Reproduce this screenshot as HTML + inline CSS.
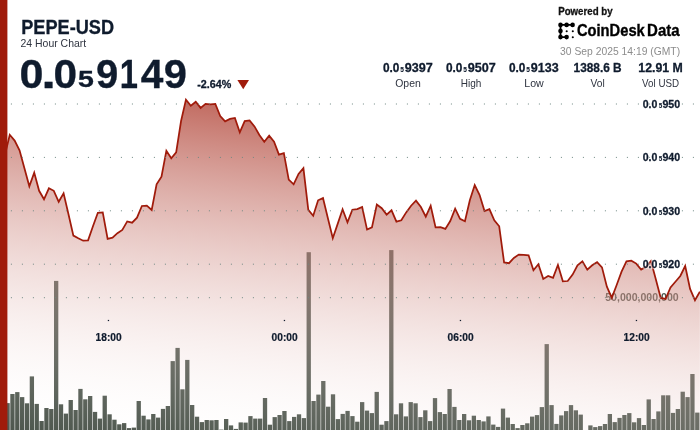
<!DOCTYPE html>
<html lang="en">
<head>
<meta charset="utf-8">
<title>PEPE-USD 24 Hour Chart</title>
<style>
html,body{margin:0;padding:0;background:#fff;}
body{width:700px;height:430px;overflow:hidden;}
svg{display:block;font-family:"Liberation Sans",sans-serif;}
text{fill:#0f1b2d;}
.ax{font-weight:700;}
.halo{filter:url(#halo);}
.b{stroke:#0f1b2d;stroke-width:.3px;}
.sv{font-weight:700;font-size:12.8px;}
.sl{font-size:11.5px;fill:#2f3440;}
.grid line{stroke:#6e8782;stroke-width:1;stroke-dasharray:1 10;}
</style>
</head>
<body>
<svg width="700" height="430" viewBox="0 0 700 430">
<defs>
<linearGradient id="af" gradientUnits="userSpaceOnUse" x1="216.5" y1="17.8" x2="167.15" y2="450.7"><stop offset="0" stop-color="#a01b0b" stop-opacity="1"/><stop offset="1" stop-color="#ffffff" stop-opacity="0"/></linearGradient>

<filter id="halo" x="-10%" y="-30%" width="120%" height="160%" color-interpolation-filters="sRGB">
<feMorphology in="SourceAlpha" operator="dilate" radius="1" result="d"/>
<feGaussianBlur in="d" stdDeviation="0.4" result="db"/>
<feFlood flood-color="#fff" flood-opacity="0.5"/>
<feComposite in2="db" operator="in" result="h"/>
<feMerge><feMergeNode in="h"/><feMergeNode in="SourceGraphic"/></feMerge>
</filter>
</defs>
<rect width="700" height="430" fill="#fff"/>
<g fill="#4d564d">
<rect x="5.44" y="403.10" width="4.3" height="26.90"/>
<rect x="10.30" y="394.00" width="4.3" height="36.00"/>
<rect x="15.16" y="392.10" width="4.3" height="37.90"/>
<rect x="20.01" y="397.10" width="4.3" height="32.90"/>
<rect x="24.87" y="403.30" width="4.3" height="26.70"/>
<rect x="29.73" y="376.40" width="4.3" height="53.60"/>
<rect x="34.59" y="403.90" width="4.3" height="26.10"/>
<rect x="39.44" y="421.00" width="4.3" height="9.00"/>
<rect x="44.30" y="408.00" width="4.3" height="22.00"/>
<rect x="49.16" y="409.00" width="4.3" height="21.00"/>
<rect x="54.01" y="280.90" width="4.3" height="149.10"/>
<rect x="58.87" y="404.30" width="4.3" height="25.70"/>
<rect x="63.73" y="413.60" width="4.3" height="16.40"/>
<rect x="68.58" y="400.00" width="4.3" height="30.00"/>
<rect x="73.44" y="410.00" width="4.3" height="20.00"/>
<rect x="78.30" y="388.90" width="4.3" height="41.10"/>
<rect x="83.16" y="399.30" width="4.3" height="30.70"/>
<rect x="88.01" y="396.00" width="4.3" height="34.00"/>
<rect x="92.87" y="411.90" width="4.3" height="18.10"/>
<rect x="97.73" y="418.60" width="4.3" height="11.40"/>
<rect x="102.58" y="395.70" width="4.3" height="34.30"/>
<rect x="107.44" y="414.30" width="4.3" height="15.70"/>
<rect x="112.30" y="419.70" width="4.3" height="10.30"/>
<rect x="117.15" y="424.30" width="4.3" height="5.70"/>
<rect x="122.01" y="423.10" width="4.3" height="6.90"/>
<rect x="126.87" y="428.10" width="4.3" height="1.90"/>
<rect x="131.73" y="427.60" width="4.3" height="2.40"/>
<rect x="136.58" y="401.00" width="4.3" height="29.00"/>
<rect x="141.44" y="415.70" width="4.3" height="14.30"/>
<rect x="146.30" y="419.40" width="4.3" height="10.60"/>
<rect x="151.15" y="414.00" width="4.3" height="16.00"/>
<rect x="156.01" y="417.60" width="4.3" height="12.40"/>
<rect x="160.87" y="408.90" width="4.3" height="21.10"/>
<rect x="165.72" y="406.00" width="4.3" height="24.00"/>
<rect x="170.58" y="361.10" width="4.3" height="68.90"/>
<rect x="175.44" y="347.90" width="4.3" height="82.10"/>
<rect x="180.30" y="389.30" width="4.3" height="40.70"/>
<rect x="185.15" y="359.90" width="4.3" height="70.10"/>
<rect x="190.01" y="405.00" width="4.3" height="25.00"/>
<rect x="194.87" y="416.70" width="4.3" height="13.30"/>
<rect x="199.72" y="422.10" width="4.3" height="7.90"/>
<rect x="204.58" y="420.00" width="4.3" height="10.00"/>
<rect x="209.44" y="420.30" width="4.3" height="9.70"/>
<rect x="214.29" y="420.00" width="4.3" height="10.00"/>
<rect x="219.15" y="429.60" width="4.3" height="0.40"/>
<rect x="224.01" y="419.00" width="4.3" height="11.00"/>
<rect x="228.87" y="425.40" width="4.3" height="4.60"/>
<rect x="233.72" y="428.90" width="4.3" height="1.10"/>
<rect x="238.58" y="422.40" width="4.3" height="7.60"/>
<rect x="243.44" y="422.60" width="4.3" height="7.40"/>
<rect x="248.29" y="416.10" width="4.3" height="13.90"/>
<rect x="253.15" y="418.60" width="4.3" height="11.40"/>
<rect x="258.01" y="418.60" width="4.3" height="11.40"/>
<rect x="262.86" y="398.00" width="4.3" height="32.00"/>
<rect x="267.72" y="424.70" width="4.3" height="5.30"/>
<rect x="272.58" y="417.10" width="4.3" height="12.90"/>
<rect x="277.44" y="415.00" width="4.3" height="15.00"/>
<rect x="282.29" y="411.00" width="4.3" height="19.00"/>
<rect x="287.15" y="421.10" width="4.3" height="8.90"/>
<rect x="292.01" y="416.90" width="4.3" height="13.10"/>
<rect x="296.86" y="414.30" width="4.3" height="15.70"/>
<rect x="301.72" y="418.10" width="4.3" height="11.90"/>
<rect x="306.58" y="252.20" width="4.3" height="177.80"/>
<rect x="311.43" y="401.00" width="4.3" height="29.00"/>
<rect x="316.29" y="394.60" width="4.3" height="35.40"/>
<rect x="321.15" y="381.00" width="4.3" height="49.00"/>
<rect x="326.01" y="406.70" width="4.3" height="23.30"/>
<rect x="330.86" y="394.30" width="4.3" height="35.70"/>
<rect x="335.72" y="419.10" width="4.3" height="10.90"/>
<rect x="340.58" y="413.90" width="4.3" height="16.10"/>
<rect x="345.43" y="410.90" width="4.3" height="19.10"/>
<rect x="350.29" y="416.10" width="4.3" height="13.90"/>
<rect x="355.15" y="421.70" width="4.3" height="8.30"/>
<rect x="360.00" y="402.10" width="4.3" height="27.90"/>
<rect x="364.86" y="410.60" width="4.3" height="19.40"/>
<rect x="369.72" y="413.10" width="4.3" height="16.90"/>
<rect x="374.58" y="391.90" width="4.3" height="38.10"/>
<rect x="379.43" y="424.70" width="4.3" height="5.30"/>
<rect x="384.29" y="421.10" width="4.3" height="8.90"/>
<rect x="389.15" y="250.10" width="4.3" height="179.90"/>
<rect x="394.00" y="414.30" width="4.3" height="15.70"/>
<rect x="398.86" y="403.30" width="4.3" height="26.70"/>
<rect x="403.72" y="416.40" width="4.3" height="13.60"/>
<rect x="408.57" y="402.10" width="4.3" height="27.90"/>
<rect x="413.43" y="403.30" width="4.3" height="26.70"/>
<rect x="418.29" y="417.10" width="4.3" height="12.90"/>
<rect x="423.15" y="410.30" width="4.3" height="19.70"/>
<rect x="428.00" y="421.10" width="4.3" height="8.90"/>
<rect x="432.86" y="398.10" width="4.3" height="31.90"/>
<rect x="437.72" y="412.10" width="4.3" height="17.90"/>
<rect x="442.57" y="414.00" width="4.3" height="16.00"/>
<rect x="447.43" y="389.00" width="4.3" height="41.00"/>
<rect x="452.29" y="406.90" width="4.3" height="23.10"/>
<rect x="457.14" y="420.00" width="4.3" height="10.00"/>
<rect x="462.00" y="414.00" width="4.3" height="16.00"/>
<rect x="466.86" y="420.30" width="4.3" height="9.70"/>
<rect x="471.72" y="415.70" width="4.3" height="14.30"/>
<rect x="476.57" y="420.00" width="4.3" height="10.00"/>
<rect x="481.43" y="421.40" width="4.3" height="8.60"/>
<rect x="486.29" y="416.40" width="4.3" height="13.60"/>
<rect x="491.14" y="424.60" width="4.3" height="5.40"/>
<rect x="496.00" y="426.90" width="4.3" height="3.10"/>
<rect x="500.86" y="408.60" width="4.3" height="21.40"/>
<rect x="505.71" y="417.60" width="4.3" height="12.40"/>
<rect x="510.57" y="424.00" width="4.3" height="6.00"/>
<rect x="515.43" y="428.10" width="4.3" height="1.90"/>
<rect x="520.28" y="425.00" width="4.3" height="5.00"/>
<rect x="525.14" y="423.30" width="4.3" height="6.70"/>
<rect x="530.00" y="416.60" width="4.3" height="13.40"/>
<rect x="534.86" y="415.10" width="4.3" height="14.90"/>
<rect x="539.71" y="407.10" width="4.3" height="22.90"/>
<rect x="544.57" y="344.10" width="4.3" height="85.90"/>
<rect x="549.43" y="405.10" width="4.3" height="24.90"/>
<rect x="554.28" y="423.90" width="4.3" height="6.10"/>
<rect x="559.14" y="415.40" width="4.3" height="14.60"/>
<rect x="564.00" y="411.10" width="4.3" height="18.90"/>
<rect x="568.86" y="405.10" width="4.3" height="24.90"/>
<rect x="573.71" y="410.30" width="4.3" height="19.70"/>
<rect x="578.57" y="414.60" width="4.3" height="15.40"/>
<rect x="588.28" y="425.40" width="4.3" height="4.60"/>
<rect x="593.14" y="427.10" width="4.3" height="2.90"/>
<rect x="598.00" y="426.10" width="4.3" height="3.90"/>
<rect x="602.85" y="424.00" width="4.3" height="6.00"/>
<rect x="607.71" y="414.00" width="4.3" height="16.00"/>
<rect x="612.57" y="422.10" width="4.3" height="7.90"/>
<rect x="617.42" y="417.90" width="4.3" height="12.10"/>
<rect x="622.28" y="415.00" width="4.3" height="15.00"/>
<rect x="627.14" y="413.10" width="4.3" height="16.90"/>
<rect x="632.00" y="422.30" width="4.3" height="7.70"/>
<rect x="636.85" y="418.10" width="4.3" height="11.90"/>
<rect x="641.71" y="425.00" width="4.3" height="5.00"/>
<rect x="646.57" y="399.40" width="4.3" height="30.60"/>
<rect x="651.42" y="419.00" width="4.3" height="11.00"/>
<rect x="656.28" y="411.40" width="4.3" height="18.60"/>
<rect x="661.14" y="395.30" width="4.3" height="34.70"/>
<rect x="666.00" y="395.30" width="4.3" height="34.70"/>
<rect x="670.85" y="412.90" width="4.3" height="17.10"/>
<rect x="675.71" y="409.00" width="4.3" height="21.00"/>
<rect x="680.57" y="391.70" width="4.3" height="38.30"/>
<rect x="685.42" y="397.10" width="4.3" height="32.90"/>
<rect x="690.28" y="374.00" width="4.3" height="56.00"/>
<rect x="695.14" y="412.60" width="4.3" height="17.40"/>
</g>
<text x="678.7" y="301.3" text-anchor="end" textLength="73.5" lengthAdjust="spacingAndGlyphs" font-weight="700" font-size="11" class="halo" style="fill:#4d564d">50,000,000,000</text>
<path d="M4.86,155.30 L9.75,134.80 L14.64,140.60 L19.54,150.30 L24.43,168.30 L29.33,186.30 L34.22,172.60 L39.12,190.80 L44.01,199.30 L48.91,188.30 L53.80,190.80 L58.70,201.80 L63.59,193.30 L68.48,214.30 L73.38,235.60 L78.27,238.30 L83.17,240.70 L88.06,240.30 L92.96,226.30 L97.85,212.80 L102.75,212.40 L107.64,238.90 L112.53,237.70 L117.43,233.20 L122.32,230.00 L127.22,221.40 L132.11,222.70 L137.01,217.70 L141.90,206.00 L146.80,205.60 L151.69,210.00 L156.59,184.30 L161.48,176.70 L166.37,150.70 L171.27,158.20 L176.16,152.40 L181.06,121.00 L185.95,99.60 L190.85,105.70 L195.74,101.70 L200.64,107.90 L205.53,103.90 L210.42,104.30 L215.32,104.00 L220.21,116.00 L225.11,121.40 L230.00,118.90 L234.90,117.90 L239.79,132.40 L244.69,121.10 L249.58,120.50 L254.47,126.40 L259.37,135.00 L264.26,141.70 L269.16,135.70 L274.05,141.70 L278.95,154.60 L283.84,153.20 L288.74,179.60 L293.63,184.30 L298.53,173.90 L303.42,168.20 L308.31,209.80 L313.21,215.70 L318.10,200.30 L323.00,198.10 L327.89,218.20 L332.79,238.20 L337.68,223.90 L342.58,209.30 L347.47,222.40 L352.37,209.70 L357.26,209.10 L362.15,207.00 L367.05,229.60 L371.94,227.40 L376.84,204.60 L381.73,208.20 L386.63,214.60 L391.52,210.30 L396.42,221.70 L401.31,220.30 L406.20,212.40 L411.10,205.70 L415.99,200.70 L420.89,207.00 L425.78,216.70 L430.68,205.70 L435.57,227.40 L440.47,227.20 L445.36,228.90 L450.25,221.00 L455.15,208.60 L460.04,218.90 L464.94,221.30 L469.83,200.30 L474.73,185.00 L479.62,195.10 L484.52,211.00 L489.41,209.20 L494.31,220.30 L499.20,226.30 L504.09,262.40 L508.99,263.20 L513.88,257.90 L518.78,254.60 L523.67,254.90 L528.57,255.30 L533.46,270.30 L538.36,264.30 L543.25,278.90 L548.14,276.00 L553.04,277.90 L557.93,264.90 L562.83,281.30 L567.72,281.00 L572.62,274.60 L577.51,265.30 L582.41,261.30 L587.30,269.60 L592.20,265.30 L597.09,262.20 L601.98,267.40 L606.88,286.70 L611.77,297.90 L616.67,285.00 L621.56,271.70 L626.46,261.40 L631.35,260.70 L636.25,263.60 L641.14,269.60 L646.03,266.70 L650.93,261.00 L655.82,279.30 L660.72,297.90 L665.61,298.90 L670.51,287.40 L675.40,281.70 L680.30,276.00 L685.19,266.00 L690.09,288.90 L694.98,300.30 L699.87,291.70 L699.87,430 L4.86,430 Z" fill="url(#af)"/>
<path d="M4.86,155.30 L9.75,134.80 L14.64,140.60 L19.54,150.30 L24.43,168.30 L29.33,186.30 L34.22,172.60 L39.12,190.80 L44.01,199.30 L48.91,188.30 L53.80,190.80 L58.70,201.80 L63.59,193.30 L68.48,214.30 L73.38,235.60 L78.27,238.30 L83.17,240.70 L88.06,240.30 L92.96,226.30 L97.85,212.80 L102.75,212.40 L107.64,238.90 L112.53,237.70 L117.43,233.20 L122.32,230.00 L127.22,221.40 L132.11,222.70 L137.01,217.70 L141.90,206.00 L146.80,205.60 L151.69,210.00 L156.59,184.30 L161.48,176.70 L166.37,150.70 L171.27,158.20 L176.16,152.40 L181.06,121.00 L185.95,99.60 L190.85,105.70 L195.74,101.70 L200.64,107.90 L205.53,103.90 L210.42,104.30 L215.32,104.00 L220.21,116.00 L225.11,121.40 L230.00,118.90 L234.90,117.90 L239.79,132.40 L244.69,121.10 L249.58,120.50 L254.47,126.40 L259.37,135.00 L264.26,141.70 L269.16,135.70 L274.05,141.70 L278.95,154.60 L283.84,153.20 L288.74,179.60 L293.63,184.30 L298.53,173.90 L303.42,168.20 L308.31,209.80 L313.21,215.70 L318.10,200.30 L323.00,198.10 L327.89,218.20 L332.79,238.20 L337.68,223.90 L342.58,209.30 L347.47,222.40 L352.37,209.70 L357.26,209.10 L362.15,207.00 L367.05,229.60 L371.94,227.40 L376.84,204.60 L381.73,208.20 L386.63,214.60 L391.52,210.30 L396.42,221.70 L401.31,220.30 L406.20,212.40 L411.10,205.70 L415.99,200.70 L420.89,207.00 L425.78,216.70 L430.68,205.70 L435.57,227.40 L440.47,227.20 L445.36,228.90 L450.25,221.00 L455.15,208.60 L460.04,218.90 L464.94,221.30 L469.83,200.30 L474.73,185.00 L479.62,195.10 L484.52,211.00 L489.41,209.20 L494.31,220.30 L499.20,226.30 L504.09,262.40 L508.99,263.20 L513.88,257.90 L518.78,254.60 L523.67,254.90 L528.57,255.30 L533.46,270.30 L538.36,264.30 L543.25,278.90 L548.14,276.00 L553.04,277.90 L557.93,264.90 L562.83,281.30 L567.72,281.00 L572.62,274.60 L577.51,265.30 L582.41,261.30 L587.30,269.60 L592.20,265.30 L597.09,262.20 L601.98,267.40 L606.88,286.70 L611.77,297.90 L616.67,285.00 L621.56,271.70 L626.46,261.40 L631.35,260.70 L636.25,263.60 L641.14,269.60 L646.03,266.70 L650.93,261.00 L655.82,279.30 L660.72,297.90 L665.61,298.90 L670.51,287.40 L675.40,281.70 L680.30,276.00 L685.19,266.00 L690.09,288.90 L694.98,300.30 L699.87,291.70" fill="none" stroke="#a01b0b" stroke-width="1.75" stroke-linejoin="miter" stroke-miterlimit="10"/>
<g class="grid"><line x1="10.9" x2="700" y1="104" y2="104"/><line x1="10.9" x2="700" y1="157.4" y2="157.4"/><line x1="10.9" x2="700" y1="210.8" y2="210.8"/><line x1="10.9" x2="700" y1="264.2" y2="264.2"/><line x1="10.9" x2="700" y1="297.7" y2="297.7"/></g>
<text class="ax b halo" font-size="11" y="107.7"><tspan x="642.68" textLength="14.65" lengthAdjust="spacingAndGlyphs">0.0</tspan><tspan x="658.42" dy="0.26" font-size="14.87" stroke-width=".15" textLength="4.07" lengthAdjust="spacingAndGlyphs">₅</tspan><tspan x="662.43" dy="-0.26" textLength="17.70" lengthAdjust="spacingAndGlyphs">950</tspan></text><text class="ax b halo" font-size="11" y="161.1"><tspan x="642.68" textLength="14.65" lengthAdjust="spacingAndGlyphs">0.0</tspan><tspan x="658.42" dy="0.26" font-size="14.87" stroke-width=".15" textLength="4.07" lengthAdjust="spacingAndGlyphs">₅</tspan><tspan x="662.43" dy="-0.26" textLength="17.70" lengthAdjust="spacingAndGlyphs">940</tspan></text><text class="ax b halo" font-size="11" y="214.5"><tspan x="642.68" textLength="14.65" lengthAdjust="spacingAndGlyphs">0.0</tspan><tspan x="658.42" dy="0.26" font-size="14.87" stroke-width=".15" textLength="4.07" lengthAdjust="spacingAndGlyphs">₅</tspan><tspan x="662.43" dy="-0.26" textLength="17.70" lengthAdjust="spacingAndGlyphs">930</tspan></text><text class="ax b halo" font-size="11" y="267.9"><tspan x="642.68" textLength="14.65" lengthAdjust="spacingAndGlyphs">0.0</tspan><tspan x="658.42" dy="0.26" font-size="14.87" stroke-width=".15" textLength="4.07" lengthAdjust="spacingAndGlyphs">₅</tspan><tspan x="662.43" dy="-0.26" textLength="17.70" lengthAdjust="spacingAndGlyphs">920</tspan></text>
<rect x="107.8" y="319.9" width="1.3" height="1.2" fill="#0f1b2d"/><text class="ax" font-size="10.4" style="stroke:#0f1b2d;stroke-width:.2px" x="108.6" y="340.7" text-anchor="middle" textLength="26" lengthAdjust="spacingAndGlyphs">18:00</text><rect x="283.8" y="319.9" width="1.3" height="1.2" fill="#0f1b2d"/><text class="ax" font-size="10.4" style="stroke:#0f1b2d;stroke-width:.2px" x="284.6" y="340.7" text-anchor="middle" textLength="26" lengthAdjust="spacingAndGlyphs">00:00</text><rect x="459.8" y="319.9" width="1.3" height="1.2" fill="#0f1b2d"/><text class="ax" font-size="10.4" style="stroke:#0f1b2d;stroke-width:.2px" x="460.6" y="340.7" text-anchor="middle" textLength="26" lengthAdjust="spacingAndGlyphs">06:00</text><rect x="635.8" y="319.9" width="1.3" height="1.2" fill="#0f1b2d"/><text class="ax" font-size="10.4" style="stroke:#0f1b2d;stroke-width:.2px" x="636.6" y="340.7" text-anchor="middle" textLength="26" lengthAdjust="spacingAndGlyphs">12:00</text>
<rect x="0" y="0" width="7.4" height="430" fill="#a01b0b"/>
<text class="b" x="21.2" y="33.6" font-weight="700" font-size="19.3" textLength="92.9" lengthAdjust="spacingAndGlyphs">PEPE-USD</text>
<text x="20.5" y="47" font-size="11.4" textLength="65.7" lengthAdjust="spacingAndGlyphs" style="fill:#2f3440">24 Hour Chart</text>
<text class="b" y="87.9" font-weight="700" font-size="40.0"><tspan x="19.50" textLength="23.97" lengthAdjust="spacingAndGlyphs">0</tspan><tspan x="41.19" textLength="14.77" lengthAdjust="spacingAndGlyphs">.</tspan><tspan x="53.52" textLength="23.62" lengthAdjust="spacingAndGlyphs">0</tspan><tspan x="76.39" dy="-1.74" font-size="48.05" textLength="18.88" lengthAdjust="spacingAndGlyphs">₅</tspan><tspan x="95.91" dy="1.74" textLength="22.27" lengthAdjust="spacingAndGlyphs">9</tspan><tspan x="119.74" textLength="18.17" lengthAdjust="spacingAndGlyphs">1</tspan><tspan x="140.78" textLength="22.63" lengthAdjust="spacingAndGlyphs">4</tspan><tspan x="163.85" textLength="23.19" lengthAdjust="spacingAndGlyphs">9</tspan></text>
<text class="b" x="197.3" y="88.1" font-weight="700" font-size="11.3" textLength="34" lengthAdjust="spacingAndGlyphs">-2.64%</text>
<path d="M237.4,79.9 L249,79.9 L243.2,89.3 Z" fill="#a01b0b"/>
<text x="558.2" y="14.6" font-weight="700" font-size="10.2" textLength="54.4" lengthAdjust="spacingAndGlyphs" style="fill:#111;stroke:#111;stroke-width:.3px">Powered by</text>
<g fill="#000">
<path d="M560.5,24.9 H572.5 M560.5,24.9 V37.1 H566.6" fill="none" stroke="#000" stroke-width="1.9" stroke-linecap="round" stroke-linejoin="round"/>
<circle cx="560.5" cy="24.9" r="2.3"/><circle cx="566.6" cy="24.9" r="2.3"/><circle cx="572.6" cy="24.9" r="2.3"/>
<circle cx="560.5" cy="31" r="2.3"/><circle cx="560.5" cy="37.1" r="2.3"/><circle cx="566.6" cy="37.1" r="2.3"/>
<circle cx="566.7" cy="31.3" r="1.05"/><circle cx="572.8" cy="31.3" r="1.05"/><circle cx="572.8" cy="37.3" r="1.05"/>
</g>
<text y="36.3" font-weight="700" font-size="15.8" style="fill:#000;stroke:#000;stroke-width:.35px"><tspan x="576.9" textLength="67.9" lengthAdjust="spacingAndGlyphs">CoinDesk</tspan> <tspan x="647.1" textLength="32.5" lengthAdjust="spacingAndGlyphs">Data</tspan></text>
<text x="560.1" y="54.9" font-size="11.6" textLength="120" lengthAdjust="spacingAndGlyphs" style="fill:#8c8c8c">30 Sep 2025 14:19 (GMT)</text>
<text class="sv b" y="71.5"><tspan x="382.93" textLength="16.45" lengthAdjust="spacingAndGlyphs">0.0</tspan><tspan x="399.91" dy="0.54" font-size="15.45" stroke-width=".15" textLength="4.20" lengthAdjust="spacingAndGlyphs">₅</tspan><tspan x="404.86" dy="-0.54" textLength="27.99" lengthAdjust="spacingAndGlyphs">9397</tspan></text><text class="sl" x="408" y="86.6" text-anchor="middle" textLength="25.5" lengthAdjust="spacingAndGlyphs">Open</text><text class="sv b" y="71.5"><tspan x="445.93" textLength="16.45" lengthAdjust="spacingAndGlyphs">0.0</tspan><tspan x="462.91" dy="0.54" font-size="15.45" stroke-width=".15" textLength="4.20" lengthAdjust="spacingAndGlyphs">₅</tspan><tspan x="467.86" dy="-0.54" textLength="27.99" lengthAdjust="spacingAndGlyphs">9507</tspan></text><text class="sl" x="471" y="86.6" text-anchor="middle" textLength="20.6" lengthAdjust="spacingAndGlyphs">High</text><text class="sv b" y="71.5"><tspan x="508.93" textLength="16.45" lengthAdjust="spacingAndGlyphs">0.0</tspan><tspan x="525.91" dy="0.54" font-size="15.45" stroke-width=".15" textLength="4.20" lengthAdjust="spacingAndGlyphs">₅</tspan><tspan x="530.87" dy="-0.54" textLength="27.89" lengthAdjust="spacingAndGlyphs">9133</tspan></text><text class="sl" x="534" y="86.6" text-anchor="middle" textLength="19.5" lengthAdjust="spacingAndGlyphs">Low</text><text class="sv b" x="597.6" y="71.5" text-anchor="middle" textLength="48.1" lengthAdjust="spacingAndGlyphs">1388.6 B</text><text class="sl" x="597.6" y="86.6" text-anchor="middle" textLength="14.2" lengthAdjust="spacingAndGlyphs">Vol</text><text class="sv b" x="660.6" y="71.5" text-anchor="middle" textLength="44.5" lengthAdjust="spacingAndGlyphs">12.91 M</text><text class="sl" x="660.6" y="86.6" text-anchor="middle" textLength="37" lengthAdjust="spacingAndGlyphs">Vol USD</text>
</svg>
</body>
</html>
